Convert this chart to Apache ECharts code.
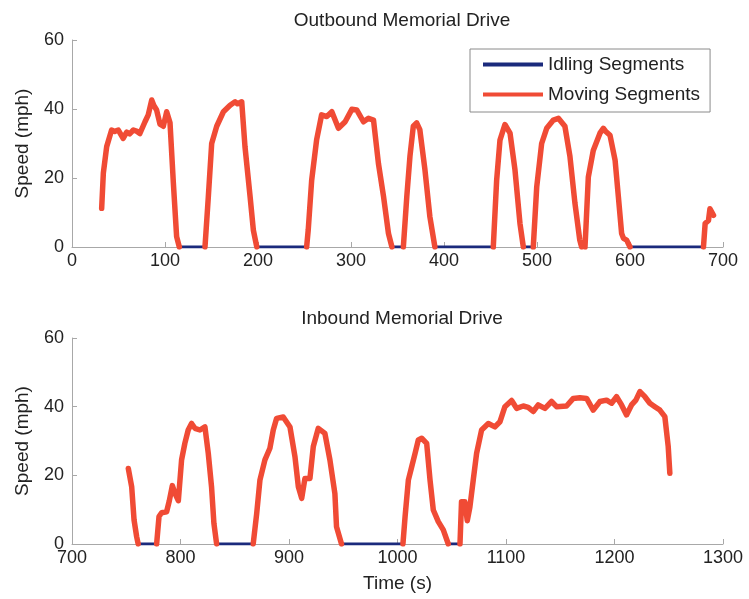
<!DOCTYPE html>
<html><head><meta charset="utf-8">
<script src="https://cdn.jsdelivr.net/npm/echarts@6/dist/echarts.min.js"></script>
<style>html,body{margin:0;padding:0;background:#fff}#c{width:749px;height:599px}</style>
</head><body><div id="c"></div>
<script>
// ---- Data ----
const titles = ['Outbound Memorial Drive', 'Inbound Memorial Drive'];
const yTicks = [0, 20, 40, 60];
const outboundXTicks = [0, 100, 200, 300, 400, 500, 600, 700];
const inboundXTicks = [700, 800, 900, 1000, 1100, 1200, 1300];

// idle intervals [start, end] (speed 0)
const outboundIdle = [[115.4,143],[198.7,252.3],[344,356.3],[390.2,453],[485.3,496],[548,551.6],[600,679]];
const inboundIdle = [[761,778],[833.3,867],[948.4,1005],[1046.8,1057.6]];

// moving segments: [time, speed]
const outboundMoving = [
  [[31.9,11.2],[33.7,21.4],[37.3,29.1],[42.6,33.9],[46,33.5],[49.8,33.9],[55,31.5],[58.8,33.3],[62,32.8],[66,33.9],[70,33.5],[73,32.9],[78.5,36.3],[82,38.3],[85.7,42.6],[88,41],[91,39.7],[94.6,35.6],[98.2,35],[101.8,39.2],[105.4,36],[109,18.5],[112.5,3],[115.4,0]],
  [[143,0],[146.6,14.6],[150.2,30],[155.6,35],[162.8,39.2],[170,41.1],[175.4,42.1],[178,41.5],[182.5,42.1],[186,29.1],[191.5,14.6],[195,4.9],[198.7,0]],
  [[252.3,0],[254,4.9],[257.7,19.3],[263,31],[268.4,38.3],[274,37.8],[279.4,39.2],[286.5,34.4],[293.7,36.3],[300.9,39.9],[306.3,39.7],[313.4,36.3],[318.8,37.3],[324.2,36.8],[329.5,24.2],[335,14.6],[340.3,3.9],[344,0]],
  [[356.3,0],[360,14.6],[363.4,26.3],[367,35],[370.6,36],[374,34],[379.5,22.4],[384.8,8.8],[390.2,0]],
  [[453,0],[456.6,19.3],[460.2,31],[465.5,35.5],[471,33],[476.3,22.4],[481.7,6.8],[485.3,0]],
  [[496,0],[499.7,17.4],[505,30],[510.4,34.4],[517.6,36.8],[523,37.3],[530,35],[535.4,26.3],[540.8,12.7],[546,2],[548,0]],
  [[551.6,0],[552.5,4.9],[555.2,20.3],[560.5,28],[567.7,33],[571.3,34.4],[574,33.5],[578.5,32.4],[584,25.1],[587.5,14.6],[591,3.9],[593,2.5],[596.4,2],[600,0]],
  [[679,0],[680.8,6.8],[684.4,7.7],[686,11.1],[689.8,9.2]]
];
const inboundMoving = [
  [[751.9,22],[755,16.7],[757.2,7],[759.6,2.1],[761,0]],
  [[778,0],[780.2,8],[782.6,9.1],[787.2,9.4],[789.7,12.6],[792.5,17],[795,14.7],[798,12.6],[801,24.5],[804,29.3],[807.1,33.2],[810.2,35.1],[813.3,33.7],[817.9,33.2],[822.5,34.1],[825.6,26.4],[828.6,16.7],[830.8,6],[833.3,0]],
  [[867,0],[870.2,8.8],[873.2,18.6],[877.8,24.5],[882.4,27.9],[885.5,33.2],[888.6,36.6],[894.7,37],[900.9,34.1],[905.5,25.4],[908.6,16.7],[911.7,13.3],[914.7,19.1],[919.3,19.1],[922.4,28.4],[927,33.7],[933.1,32.2],[937.7,24.5],[942.3,14.7],[943.8,5],[948.4,0]],
  [[1005,0],[1007,8],[1010,18.6],[1013.1,22.5],[1016.2,26.4],[1019.2,30.3],[1022.3,30.8],[1026.9,29.3],[1030,18.6],[1033,9.9],[1037.6,6.5],[1042.2,4.1],[1046.8,0]],
  [[1057.6,0],[1059,12.3],[1062.1,12.3],[1064.3,6.8],[1066.7,10.7],[1069.8,18.6],[1072.9,26.4],[1077.5,33.2],[1083.7,35.1],[1089.8,34.1],[1094.4,35.6],[1099,40],[1105.2,41.8],[1109.8,39.5],[1115.9,40.2],[1120.5,39.8],[1125.1,38.6],[1129.7,40.5],[1135.9,39.5],[1142,41.5],[1146.6,40],[1155.8,40.2],[1162,42.4],[1168.1,42.6],[1174.3,42.4],[1180.4,39],[1186.6,41.5],[1192.7,41.9],[1197.3,41],[1201.9,42.9],[1206.5,40.5],[1211.1,37.6],[1215.7,40.5],[1219.7,41.9],[1223.4,44.4],[1228,42.9],[1232.6,41],[1237.2,40],[1241.8,39],[1246.4,37.1],[1249.5,28.4],[1251,20.6]]
];

// ---- Build ----
const FONT = 'Liberation Sans';
const RED = '#f04b35', BLUE = '#1b2a7c', AXIS = '#a8a8a8', TXT = '#222';

function joinSegments(segs) {
  const out = [];
  segs.forEach((s, i) => { if (i) out.push(['-', '-']); s.forEach(p => out.push(p)); });
  return out;
}
function idleSegments(iv) { return iv.map(([a, b]) => [[a, 0], [b, 0]]); }

function xAxis(gi, ticks, name) {
  return {
    type: 'value', gridIndex: gi, min: ticks[0], max: ticks[ticks.length - 1], interval: 100,
    name: name || '', nameLocation: 'middle', nameGap: 30,
    nameTextStyle: { fontFamily: FONT, fontSize: 19, color: TXT },
    axisLine: { show: true, onZero: false, lineStyle: { color: AXIS, width: 1 } },
    axisTick: { show: true, inside: true, length: 5, lineStyle: { color: AXIS } },
    axisLabel: { fontFamily: FONT, fontSize: 18, color: TXT, margin: 5, formatter: v => String(v) },
    splitLine: { show: false }
  };
}
function yAxis(gi) {
  return {
    type: 'value', gridIndex: gi, min: yTicks[0], max: yTicks[yTicks.length - 1], interval: 20,
    name: 'Speed (mph)', nameLocation: 'middle', nameGap: 40,
    nameTextStyle: { fontFamily: FONT, fontSize: 19, color: TXT },
    axisLine: { show: true, lineStyle: { color: AXIS, width: 1 } },
    axisTick: { show: true, inside: true, length: 5, lineStyle: { color: AXIS } },
    axisLabel: { fontFamily: FONT, fontSize: 18, color: TXT, margin: 8 },
    splitLine: { show: false }
  };
}
function idleSeries(gi, iv) {
  return { name: 'Idling Segments', type: 'line', xAxisIndex: gi, yAxisIndex: gi,
    data: joinSegments(idleSegments(iv)), showSymbol: false, symbol: 'none',
    lineStyle: { color: BLUE, width: 3 }, itemStyle: { color: BLUE }, z: 2, animation: false };
}
function movingSeries(gi, segs) {
  return { name: 'Moving Segments', type: 'line', xAxisIndex: gi, yAxisIndex: gi,
    data: joinSegments(segs), showSymbol: false, symbol: 'none',
    lineStyle: { color: RED, width: 5.5, join: 'round', cap: 'round' }, itemStyle: { color: RED }, z: 3, animation: false };
}

const chart = echarts.init(document.getElementById('c'), null, { renderer: 'canvas' });
chart.setOption({
  backgroundColor: '#fff',
  animation: false,
  title: [
    { text: titles[0], left: 397, top: 6, textAlign: 'center', textStyle: { fontFamily: FONT, fontSize: 19, fontWeight: 'normal', color: TXT } },
    { text: titles[1], left: 397, top: 304, textAlign: 'center', textStyle: { fontFamily: FONT, fontSize: 19, fontWeight: 'normal', color: TXT } }
  ],
  grid: [
    { left: 72, right: 26, top: 40, height: 207 },
    { left: 72, right: 26, top: 338, height: 206 }
  ],
  legend: {
    data: ['Idling Segments', 'Moving Segments'],
    orient: 'vertical', left: 470, top: 49,
    icon: 'rect', itemWidth: 60, itemHeight: 4, itemGap: 11,
    padding: [6, 10, 8, 13],
    borderColor: '#8a8a8a', borderWidth: 1, backgroundColor: '#fff',
    textStyle: { fontFamily: FONT, fontSize: 19, color: TXT },
    selectedMode: false
  },
  xAxis: [xAxis(0, outboundXTicks), xAxis(1, inboundXTicks, 'Time (s)')],
  yAxis: [yAxis(0), yAxis(1)],
  series: [
    idleSeries(0, outboundIdle), movingSeries(0, outboundMoving),
    idleSeries(1, inboundIdle), movingSeries(1, inboundMoving)
  ]
});
</script></body></html>
